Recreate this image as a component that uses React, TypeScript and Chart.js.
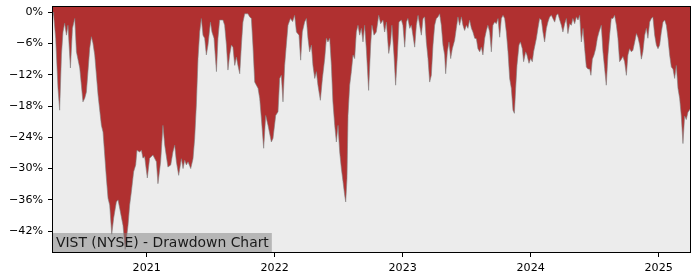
import React, { useEffect, useRef } from "react";
import { Chart, registerables } from "chart.js";

Chart.register(...registerables);

// Decimal-year dates and drawdown (%) values
const dates: number[] = [
  2020.268, 2020.273, 2020.289, 2020.307, 2020.320, 2020.334, 2020.346, 2020.359, 2020.373, 2020.385,
  2020.404, 2020.420, 2020.438, 2020.451, 2020.477, 2020.502, 2020.516, 2020.529, 2020.541, 2020.555,
  2020.568, 2020.580, 2020.594, 2020.620, 2020.646, 2020.659, 2020.672, 2020.685, 2020.698, 2020.711,
  2020.727, 2020.742, 2020.763, 2020.776, 2020.789, 2020.815, 2020.832, 2020.854, 2020.867, 2020.880,
  2020.898, 2020.914, 2020.924, 2020.945, 2020.959, 2020.971, 2020.984, 2021.005, 2021.023, 2021.049,
  2021.076, 2021.088, 2021.109, 2021.127, 2021.141, 2021.166, 2021.188, 2021.205, 2021.219, 2021.232,
  2021.250, 2021.271, 2021.284, 2021.297, 2021.310, 2021.323, 2021.344, 2021.362, 2021.375, 2021.388,
  2021.401, 2021.414, 2021.427, 2021.440, 2021.453, 2021.466, 2021.479, 2021.498, 2021.510, 2021.526,
  2021.545, 2021.557, 2021.570, 2021.596, 2021.609, 2021.623, 2021.635, 2021.648, 2021.662, 2021.674,
  2021.688, 2021.701, 2021.713, 2021.727, 2021.740, 2021.752, 2021.766, 2021.791, 2021.805, 2021.818,
  2021.830, 2021.844, 2021.857, 2021.870, 2021.883, 2021.896, 2021.914, 2021.930, 2021.948, 2021.974,
  2021.987, 2022.008, 2022.026, 2022.039, 2022.052, 2022.065, 2022.078, 2022.091, 2022.104, 2022.123,
  2022.140, 2022.156, 2022.170, 2022.190, 2022.203, 2022.216, 2022.234, 2022.248, 2022.260, 2022.273,
  2022.287, 2022.299, 2022.313, 2022.326, 2022.338, 2022.357, 2022.373, 2022.391, 2022.404, 2022.416,
  2022.430, 2022.443, 2022.455, 2022.469, 2022.482, 2022.495, 2022.508, 2022.521, 2022.534, 2022.547,
  2022.555, 2022.565, 2022.573, 2022.586, 2022.599, 2022.612, 2022.625, 2022.638, 2022.651, 2022.664,
  2022.677, 2022.690, 2022.703, 2022.716, 2022.734, 2022.750, 2022.760, 2022.776, 2022.794, 2022.813,
  2022.828, 2022.846, 2022.859, 2022.873, 2022.891, 2022.906, 2022.916, 2022.932, 2022.945, 2022.959,
  2022.971, 2022.990, 2023.002, 2023.016, 2023.029, 2023.041, 2023.055, 2023.068, 2023.080, 2023.094,
  2023.107, 2023.120, 2023.133, 2023.146, 2023.159, 2023.172, 2023.185, 2023.198, 2023.211, 2023.224,
  2023.237, 2023.250, 2023.263, 2023.276, 2023.289, 2023.302, 2023.315, 2023.328, 2023.336, 2023.349,
  2023.362, 2023.375, 2023.388, 2023.406, 2023.419, 2023.432, 2023.445, 2023.459, 2023.471, 2023.484,
  2023.498, 2023.510, 2023.523, 2023.537, 2023.549, 2023.563, 2023.576, 2023.588, 2023.602, 2023.615,
  2023.627, 2023.641, 2023.654, 2023.666, 2023.680, 2023.693, 2023.705, 2023.719, 2023.732, 2023.745,
  2023.758, 2023.771, 2023.784, 2023.797, 2023.810, 2023.823, 2023.836, 2023.849, 2023.862, 2023.873,
  2023.883, 2023.893, 2023.909, 2023.920, 2023.935, 2023.945, 2023.961, 2023.971, 2023.987, 2024.000,
  2024.013, 2024.023, 2024.034, 2024.045, 2024.057, 2024.070, 2024.084, 2024.096, 2024.109, 2024.123,
  2024.135, 2024.148, 2024.162, 2024.174, 2024.188, 2024.201, 2024.213, 2024.227, 2024.240, 2024.252,
  2024.266, 2024.279, 2024.291, 2024.305, 2024.318, 2024.330, 2024.344, 2024.357, 2024.370, 2024.383,
  2024.396, 2024.409, 2024.422, 2024.435, 2024.448, 2024.461, 2024.471, 2024.482, 2024.495, 2024.508,
  2024.521, 2024.534, 2024.552, 2024.565, 2024.578, 2024.591, 2024.604, 2024.617, 2024.630, 2024.643,
  2024.656, 2024.670, 2024.682, 2024.695, 2024.709, 2024.721, 2024.734, 2024.748, 2024.760, 2024.773,
  2024.787, 2024.799, 2024.813, 2024.826, 2024.838, 2024.852, 2024.865, 2024.877, 2024.891, 2024.904,
  2024.916, 2024.930, 2024.943, 2024.955, 2024.969, 2024.982, 2024.995, 2025.008, 2025.021, 2025.034,
  2025.047, 2025.060, 2025.073, 2025.086, 2025.099, 2025.112, 2025.125, 2025.138, 2025.151, 2025.164,
  2025.177, 2025.190, 2025.203, 2025.216, 2025.229, 2025.245,
];

const drawdown: number[] = [
  0, -0.6, -5.0, -14.6, -18.8, -8.2, -3.8, -2.1, -4.4, -2.5,
  -10.7, -3.1, -1.2, -7.6, -10.7, -17.2, -16.5, -15.3, -11.4, -6.9,
  -4.7, -5.9, -8.2, -15.9, -21.7, -23.0, -27.4, -31.8, -35.7, -37.0,
  -42.6, -39.5, -36.4, -36.0, -37.6, -40.9, -45.5, -40.9, -37.0, -34.5,
  -30.6, -29.3, -26.5, -26.8, -26.5, -28.0, -27.7, -31.8, -28.0, -27.4,
  -28.7, -32.9, -28.7, -21.7, -25.5, -29.7, -29.3, -26.8, -25.5, -28.7,
  -31.3, -28.1, -30.0, -28.4, -29.3, -28.7, -30.0, -28.1, -24.2, -17.8,
  -8.9, -3.8, -1.2, -4.4, -5.0, -8.2, -6.3, -1.9, -3.8, -5.0,
  -11.4, -5.0, -1.5, -1.5, -2.5, -6.3, -11.1, -8.2, -6.3, -6.7,
  -10.2, -8.6, -10.2, -11.8, -6.3, -1.9, -0.3, -0.3, -0.9, -1.2,
  -6.3, -13.4, -14.0, -14.6, -16.5, -20.4, -26.1, -19.8, -21.7, -24.9,
  -24.2, -19.8, -19.1, -12.7, -12.1, -17.2, -10.2, -6.3, -2.5, -1.2,
  -1.8, -0.6, -3.8, -4.4, -9.2, -3.8, -1.9, -1.2, -5.0, -7.6,
  -6.3, -10.2, -12.7, -11.4, -14.0, -16.9, -12.7, -8.9, -5.0, -5.7,
  -5.0, -10.2, -17.2, -21.7, -24.9, -21.7, -26.8, -30.0, -32.5, -35.1,
  -36.4, -31.9, -19.8, -14.0, -11.4, -8.2, -8.9, -3.8, -2.5, -4.4,
  -3.1, -5.7, -2.5, -7.0, -15.0, -6.3, -2.5, -4.4, -3.8, -0.6,
  -2.2, -1.5, -3.8, -1.9, -7.9, -5.7, -2.5, -8.2, -14.0, -8.2,
  -1.9, -1.5, -2.5, -6.7, -1.9, -1.2, -3.1, -2.5, -4.4, -6.7,
  -2.5, -0.6, -2.5, -4.4, -1.2, -0.9, -5.7, -8.9, -13.4, -12.1,
  -6.3, -2.5, -1.2, -0.9, -0.3, -2.5, -6.3, -8.2, -11.8, -7.6,
  -5.7, -8.9, -7.0, -5.4, -3.1, -0.9, -2.5, -0.9, -2.5, -3.5,
  -2.5, -3.1, -1.5, -3.1, -3.8, -5.0, -5.1, -7.0, -7.6, -6.7,
  -8.2, -5.0, -3.5, -2.5, -3.8, -7.6, -2.5, -1.9, -2.2, -1.2,
  -4.8, -1.2, -0.6, -1.2, -3.8, -7.6, -12.7, -14.6, -18.8, -19.4,
  -14.6, -10.2, -6.3, -5.7, -7.0, -9.5, -7.6, -8.2, -9.8, -8.9,
  -9.5, -7.6, -6.3, -5.0, -3.1, -1.2, -1.5, -3.8, -5.7, -3.1,
  -1.9, -0.9, -0.6, -1.2, -1.9, -0.6, -0.3, -1.5, -2.5, -3.8,
  -2.2, -1.2, -4.1, -2.2, -2.5, -1.2, -2.2, -0.9, -1.5, -0.6,
  -5.7, -3.1, -7.0, -10.5, -10.9, -10.9, -12.1, -9.0, -8.2, -7.0,
  -5.0, -3.8, -2.5, -7.6, -10.8, -14.0, -8.2, -4.4, -1.2, -1.2,
  -0.6, -2.5, -5.0, -9.5, -9.0, -8.5, -9.5, -12.1, -8.2, -7.0,
  -7.6, -7.3, -5.7, -4.1, -4.8, -6.3, -9.0, -7.6, -4.4, -3.1,
  -5.0, -1.9, -1.2, -0.9, -4.4, -6.3, -7.0, -6.3, -3.8, -1.9,
  -1.5, -2.5, -5.0, -8.2, -10.5, -10.9, -12.7, -10.2, -14.6, -16.5,
  -19.9, -25.2, -19.9, -20.6, -19.2, -18.6,
];

const xTickYears: number[] = [2021, 2022, 2023, 2024, 2025];
const yTickValues: number[] = [0, -6, -12, -18, -24, -30, -36, -42];
const chartLabel = "VIST (NYSE) - Drawdown Chart";

const FONT = "'DejaVu Sans', sans-serif";

export default function App() {
  const canvasRef = useRef<HTMLCanvasElement | null>(null);

  useEffect(() => {
    const canvas = canvasRef.current;
    if (!canvas) return;

    const bgPlugin = {
      id: "plotBg",
      beforeDatasetsDraw(chart: any) {
        const { ctx, chartArea: a } = chart;
        ctx.save();
        ctx.fillStyle = "#ececec";
        ctx.fillRect(a.left, a.top, a.right - a.left, a.bottom - a.top);
        ctx.restore();
      },
      afterDraw(chart: any) {
        const { ctx, chartArea: a } = chart;
        ctx.save();
        // label box
        ctx.font = `13.9px ${FONT}`;
        const w = ctx.measureText(chartLabel).width;
        const boxTop = 233;
        ctx.fillStyle = "rgba(128,128,128,0.5)";
        ctx.fillRect(a.left, boxTop, w + 6, a.bottom - boxTop);
        ctx.fillStyle = "#1a1a1a";
        ctx.textBaseline = "alphabetic";
        ctx.textAlign = "left";
        ctx.fillText(chartLabel, a.left + 3, 247);
        // frame
        ctx.strokeStyle = "#000";
        ctx.lineWidth = 1;
        ctx.strokeRect(a.left - 0.5, a.top - 0.5, a.right - a.left + 1, a.bottom - a.top + 1);
        ctx.restore();
      },
    };

    const chart = new Chart(canvas, {
      type: "line",
      data: {
        datasets: [
          {
            data: dates.map((d, i) => ({ x: d, y: drawdown[i] })),
            borderColor: "rgba(128,128,128,0.6)",
            borderWidth: 1,
            backgroundColor: "#b03030",
            fill: "end",
            pointRadius: 0,
            tension: 0,
          },
        ],
      },
      options: {
        responsive: false,
        animation: false,
        devicePixelRatio: 1,
        layout: { padding: { top: 7, right: 10, left: 0, bottom: 0 } },
        plugins: {
          legend: { display: false },
          tooltip: { enabled: false },
        },
        scales: {
          x: {
            type: "linear",
            min: 2020.268,
            max: 2025.245,
            afterBuildTicks: (s: any) => {
              s.ticks = xTickYears.map((v) => ({ value: v }));
            },
            afterFit: (s: any) => {
              s.height = 28;
              s.paddingLeft = 0;
              s.paddingRight = 0;
            },
            border: { display: false },
            grid: {
              drawOnChartArea: false,
              drawTicks: true,
              tickLength: 5,
              tickColor: "#000",
              color: "#000",
            },
            ticks: {
              autoSkip: false,
              maxRotation: 0,
              padding: 4,
              color: "#000",
              font: { family: FONT, size: 11.1 },
              callback: (v: any) => String(v),
            },
          },
          y: {
            type: "linear",
            min: -46,
            max: 1,
            afterBuildTicks: (s: any) => {
              s.ticks = yTickValues.map((v) => ({ value: v }));
            },
            afterFit: (s: any) => {
              s.width = 53;
              s.paddingTop = 0;
              s.paddingBottom = 0;
            },
            border: { display: false },
            grid: {
              drawOnChartArea: false,
              drawTicks: true,
              tickLength: 5,
              tickColor: "#000",
              color: "#000",
            },
            ticks: {
              autoSkip: false,
              padding: 5,
              color: "#000",
              font: { family: FONT, size: 11.1 },
              callback: (v: any) => (v === 0 ? "0%" : "\u2212" + Math.abs(v) + "%"),
            },
          },
        },
      },
      plugins: [bgPlugin],
    });

    return () => chart.destroy();
  }, []);

  return (
    <div style={{ position: "absolute", left: 0, top: 0, width: 700, height: 280, background: "#fff" }}>
      <canvas ref={canvasRef} width={700} height={280} style={{ display: "block" }} />
    </div>
  );
}
